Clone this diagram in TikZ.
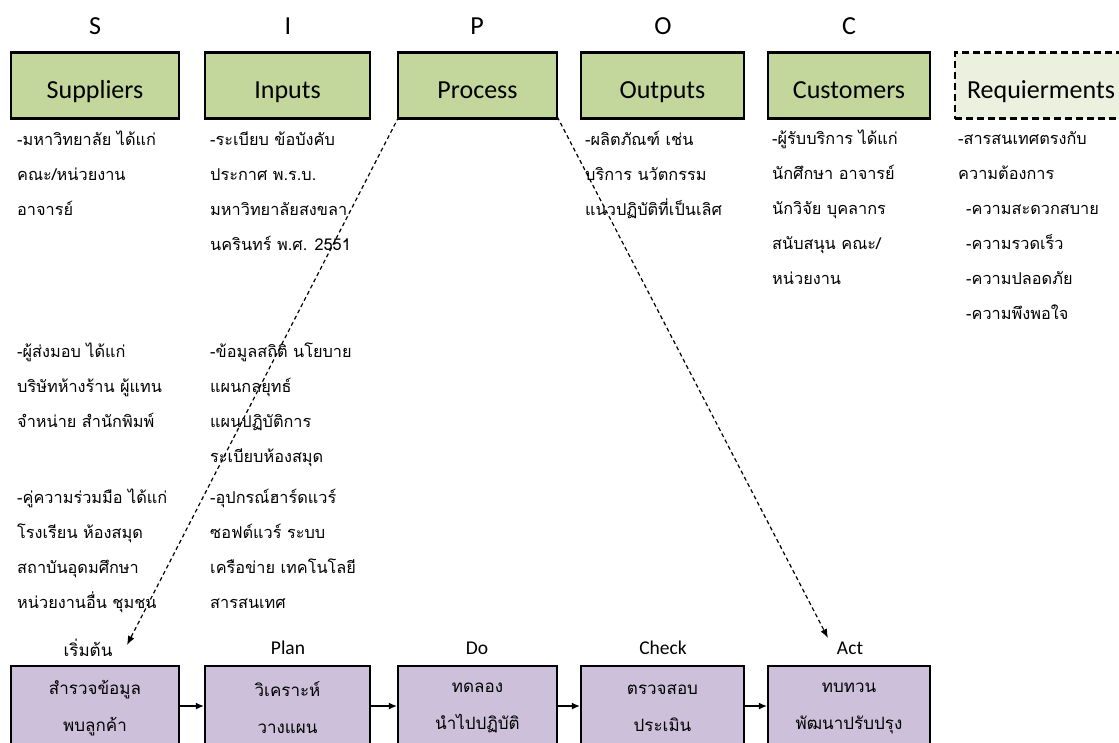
\documentclass[tikz,border=0pt]{standalone}
\usepackage{fontspec}
\setmainfont[Script=Thai]{Loma}
\newfontfamily\latinfont{Carlito}
\usetikzlibrary{arrows.meta}
\definecolor{sipocgreen}{HTML}{C3D69B}
\definecolor{reqgreen}{HTML}{EBF1DE}
\definecolor{pdcapurple}{HTML}{CCC0DA}

\begin{document}
\begin{tikzpicture}[x=1pt, y=-1pt,
    letter/.style={font=\latinfont\fontsize{26}{30}\selectfont},
    headbox/.style={draw, line width=2.4pt, fill=sipocgreen, inner sep=0pt,
        minimum height=66pt, text height=28pt, text depth=3pt,
        font=\latinfont\fontsize{26}{30}\selectfont},
    reqbox/.style={headbox, fill=reqgreen, dash pattern=on 7pt off 4pt},
    body/.style={anchor=north west, align=left, inner sep=0pt,
        font=\fontsize{16.3}{35}\selectfont},
    stagelabel/.style={font=\latinfont\fontsize{19.5}{22}\selectfont},
    stagebox/.style={draw, line width=2.4pt, fill=pdcapurple, inner sep=0pt,
        minimum height=84pt, align=center, font=\fontsize{17}{37}\selectfont},
    flow/.style={-{Latex[length=8pt, width=7pt]}, line width=1.1pt},
    link/.style={-{Latex[length=9pt, width=7pt]}, line width=1.2pt, dash pattern=on 4pt off 3pt}]
    \useasboundingbox (0,0) rectangle (1119,742);
    \clip (0,0) rectangle (1119,742);

    % Letters
    \node[letter] (lS) at (95,26) {S};
    \node[letter] (lI) at (288,26) {I};
    \node[letter] (lP) at (477,26) {P};
    \node[letter] (lO) at (663,26) {O};
    \node[letter] (lC) at (849,26) {C};

    % Head boxes
    \node[headbox, minimum width=168pt] (sup) at (95,85.5) {Suppliers};
    \node[headbox, minimum width=165pt] (inp) at (287.5,85.5) {Inputs};
    \node[headbox, minimum width=159pt] (pro) at (477.5,85.5) {Process};
    \node[headbox, minimum width=163pt] (out) at (662.5,85.5) {Outputs};
    \node[headbox, minimum width=162pt] (cus) at (849,85.5) {Customers};
    \node[reqbox, minimum width=172pt] (req) at (1041,85.5) {Requierments};

    % Suppliers
    \node[body] (sup1) at (17,131) {-มหาวิทยาลัย ได้แก่\\คณะ/หน่วยงาน\\อาจารย์};
    \node[body] (sup2) at (17,343) {-ผู้ส่งมอบ ได้แก่\\บริษัทห้างร้าน ผู้แทน\\จำหน่าย สำนักพิมพ์};
    \node[body] (sup3) at (17,489) {-คู่ความร่วมมือ ได้แก่\\โรงเรียน ห้องสมุด\\สถาบันอุดมศึกษา\\หน่วยงานอื่น ชุมชน};

    % Inputs
    \node[body] (inp1) at (210,131) {-ระเบียบ ข้อบังคับ\\ประกาศ พ.ร.บ.\\มหาวิทยาลัยสงขลา\\นครินทร์ พ.ศ. 2551};
    \node[body] (inp2) at (210,343) {-ข้อมูลสถิติ นโยบาย\\แผนกลยุทธ์\\แผนปฏิบัติการ\\ระเบียบห้องสมุด};
    \node[body] (inp3) at (210,489) {-อุปกรณ์ฮาร์ดแวร์\\ซอฟต์แวร์ ระบบ\\เครือข่าย เทคโนโลยี\\สารสนเทศ};

    % Outputs, Customers, Requierments
    \node[body] (out1) at (585,131) {-ผลิตภัณฑ์ เช่น\\บริการ นวัตกรรม\\แนวปฏิบัติที่เป็นเลิศ};
    \node[body] (cus1) at (772,130) {-ผู้รับบริการ ได้แก่\\นักศึกษา อาจารย์\\นักวิจัย บุคลากร\\สนับสนุน คณะ/\\หน่วยงาน};
    \node[body] (req1) at (958,131) {-สารสนเทศตรงกับ\\ความต้องการ\\\hspace*{8pt}-ความสะดวกสบาย\\\hspace*{8pt}-ความรวดเร็ว\\\hspace*{8pt}-ความปลอดภัย\\\hspace*{8pt}-ความพึงพอใจ};

    % Stage labels
    \node (st0) at (88,648) {\fontsize{17}{20}\selectfont เริ่มต้น};
    \node[stagelabel] (st1) at (288,648) {Plan};
    \node[stagelabel] (st2) at (477,648) {Do};
    \node[stagelabel] (st3) at (663,648) {Check};
    \node[stagelabel] (st4) at (850,648) {Act};

    % Stage boxes
    \node[stagebox, minimum width=168pt] (b0) at (95,708) {สำรวจข้อมูล\\พบลูกค้า};
    \node[stagebox, minimum width=165pt] (b1) at (287.5,708) {วิเคราะห์\\วางแผน};
    \node[stagebox, minimum width=159pt] (b2) at (477.5,708) {ทดลอง\\นำไปปฏิบัติ};
    \node[stagebox, minimum width=163pt] (b3) at (662.5,708) {ตรวจสอบ\\ประเมิน};
    \node[stagebox, minimum width=162pt] (b4) at (849,708) {ทบทวน\\พัฒนาปรับปรุง};

    % Connections
    \draw[flow] ([yshift=2pt]b0.east) -- ([yshift=2pt]b1.west);
    \draw[flow] ([yshift=2pt]b1.east) -- ([yshift=2pt]b2.west);
    \draw[flow] ([yshift=2pt]b2.east) -- ([yshift=2pt]b3.west);
    \draw[flow] ([yshift=2pt]b3.east) -- ([yshift=2pt]b4.west);

    \coordinate (startend) at (127,645);
    \coordinate (actend) at (828,638);
    \draw[link] ([xshift=2pt, yshift=3pt]pro.south west) -- (startend);
    \draw[link] ([xshift=-1pt, yshift=3pt]pro.south east) -- (actend);
\end{tikzpicture}
\end{document}
